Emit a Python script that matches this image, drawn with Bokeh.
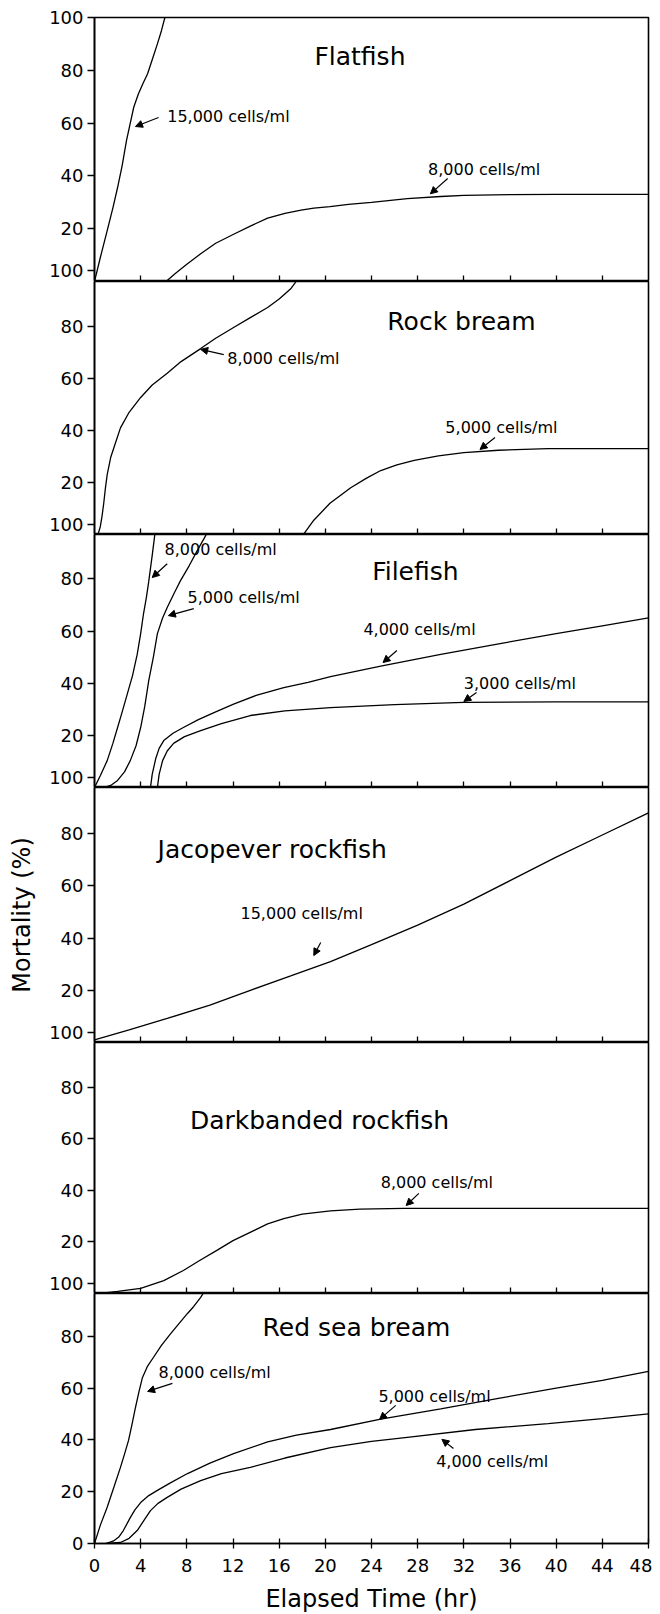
from bokeh.plotting import figure
from bokeh.layouts import column
from bokeh.models import Range1d, FixedTicker, Label, Arrow, NormalHead
from bokeh.embed import file_html
from bokeh.resources import INLINE

# ---------------- data ----------------
x_ticks = [0, 4, 8, 12, 16, 20, 24, 28, 32, 36, 40, 44, 48]

flat_15k_x = [0, 0.5, 1.1, 1.6, 2.0, 2.4, 2.77, 3.1, 3.4, 3.8, 4.2, 4.6, 5.0, 5.45, 5.8, 6.1]
flat_15k_y = [0, 9, 19.3, 28, 35.6, 44, 53.4, 60, 66, 71, 75, 78.7, 84, 90, 95, 100]
flat_8k_x = [6.2, 7.0, 8.0, 9.2, 10.5, 12.1, 13.5, 15, 16.5, 17.9, 19, 20.4, 22, 24, 27.1, 30, 32, 36, 40, 48]
flat_8k_y = [0, 3, 6.5, 10.5, 14.5, 18, 21, 24, 25.8, 27, 27.8, 28.4, 29.2, 30, 31.4, 32.2, 32.6, 32.9, 33, 33]

rock_8k_x = [0.3, 0.5, 0.65, 0.8, 0.95, 1.1, 1.4, 1.8, 2.25, 3, 4, 5, 6.3, 7.5, 9.2, 10.5, 12.05, 13.5, 15, 16, 17, 17.5]
rock_8k_y = [0, 3, 7, 12, 18, 23, 29.6, 35, 41, 47, 52.7, 57.5, 62, 66.5, 71.5, 75.5, 79.6, 83.4, 87.3, 90.6, 94.5, 97.5]
rock_5k_x = [18.1, 19, 20.4, 21.3, 22.2, 23.5, 24.8, 26.2, 27.7, 29.8, 32, 35, 39.3, 44, 48]
rock_5k_y = [0, 5.5, 12, 15, 18, 21.5, 24.6, 26.8, 28.5, 30.2, 31.5, 32.4, 33, 33, 33]

file_8k_x = [0, 0.5, 1.1, 1.6, 2.0, 2.4, 2.85, 3.3, 3.7, 4.0, 4.25, 4.5, 4.7, 5.0, 5.3]
file_8k_y = [0, 4.5, 10.3, 17, 23, 29, 36, 43, 51, 59, 66.7, 73, 79, 89, 99.6]
file_5k_x = [0.8, 1.4, 2.0, 2.6, 3.1, 3.6, 4.0, 4.35, 4.7, 5.1, 5.45, 5.9, 6.3, 6.9, 7.45, 8.2, 8.9, 9.5, 10.0]
file_5k_y = [0, 0.8, 2.7, 6, 10.3, 16, 23, 31, 41, 50, 59, 65, 69, 74.5, 79.3, 85, 90.8, 95.5, 99.6]
file_4k_x = [4.85, 5.0, 5.3, 5.6, 6.0, 6.8, 7.7, 9, 10.5, 12.05, 14, 16.4, 18.5, 20.45, 24.8, 30, 34.9, 40, 44, 48]
file_4k_y = [0, 5, 11, 15, 18, 20.8, 23, 26, 29, 32, 35.3, 38.3, 40.3, 42.5, 46.5, 51, 55, 59, 62, 65]
file_3k_x = [5.45, 5.6, 5.9, 6.3, 6.85, 7.8, 9.2, 11, 13.5, 16.5, 20.45, 26, 32, 40, 48]
file_3k_y = [0, 5, 10.3, 14, 16.9, 19.5, 21.8, 24.5, 27.6, 29.4, 30.6, 31.8, 32.6, 32.8, 32.8]

jaco_15k_x = [0, 3, 6.3, 10, 13.5, 17, 20.45, 24, 28, 32, 36, 40, 44, 48]
jaco_15k_y = [1, 4.8, 9.2, 14.3, 20, 25.5, 31, 37.5, 45, 53, 62, 71, 79.5, 88]

dark_8k_x = [0.5, 2, 4, 6, 7.7, 9, 10.6, 12, 13.8, 15, 16.4, 18, 20.45, 23, 26.8, 32, 48]
dark_8k_y = [0, 0.8, 2, 5, 8.9, 12.5, 16.7, 20.5, 24.4, 27, 29, 30.8, 32, 32.7, 33, 33, 33]

red_8k_x = [0, 0.5, 1.1, 1.7, 2.25, 2.6, 2.95, 3.25, 3.55, 3.85, 4.15, 4.6, 5.1, 5.8, 6.6, 7.3, 8.06, 8.6, 9.2, 9.9]
red_8k_y = [0, 7, 14, 22, 29.4, 34.5, 39.8, 46, 52.5, 58.5, 64, 68.5, 71.8, 76.5, 81, 84.8, 88.8, 91.5, 95, 100]
red_5k_x = [1.0, 1.65, 2.1, 2.5, 3.1, 3.5, 4.0, 4.7, 5.45, 6.5, 8.06, 10, 12.05, 15, 17.5, 20.45, 24.8, 30, 35, 40, 44, 48]
red_5k_y = [0, 1, 2.5, 5, 10, 13, 15.8, 18.5, 20.5, 23.2, 27, 31, 34.7, 39.2, 41.8, 44, 48, 52, 56, 60, 63, 66.4]
red_4k_x = [1.0, 2.25, 3.0, 3.7, 4.3, 4.85, 5.5, 6.3, 7.5, 9.2, 11, 13.5, 16.5, 20.45, 24, 27.1, 33, 39.3, 44, 48]
red_4k_y = [0, 0.4, 2, 5, 9, 12.7, 15.5, 17.8, 21, 24.3, 27, 29.4, 33, 37, 39.4, 41, 44, 46.3, 48.2, 50]

panel_titles = ["Flatfish", "Rock bream", "Filefish", "Jacopever rockfish",
                "Darkbanded rockfish", "Red sea bream"]

series = [
    [(flat_15k_x, flat_15k_y), (flat_8k_x, flat_8k_y)],
    [(rock_8k_x, rock_8k_y), (rock_5k_x, rock_5k_y)],
    [(file_8k_x, file_8k_y), (file_5k_x, file_5k_y), (file_4k_x, file_4k_y), (file_3k_x, file_3k_y)],
    [(jaco_15k_x, jaco_15k_y)],
    [(dark_8k_x, dark_8k_y)],
    [(red_8k_x, red_8k_y), (red_5k_x, red_5k_y), (red_4k_x, red_4k_y)],
]

# label text, text x, text y, arrow tail (x, y), arrow head (x, y)
labels = [
    [("15,000 cells/ml", 6.3, 62.5, 5.55, 62.1, 3.55, 58.7),
     ("8,000 cells/ml", 28.9, 42.4, 30.6, 39.0, 29.1, 33.2)],
    [("8,000 cells/ml", 11.5, 67.7, 11.2, 69.2, 9.2, 71.2),
     ("5,000 cells/ml", 30.4, 41.2, 34.7, 37.3, 33.4, 32.7)],
    [("8,000 cells/ml", 6.07, 91.2, 6.3, 85.8, 5.0, 80.5),
     ("5,000 cells/ml", 8.06, 72.8, 8.6, 68.6, 6.4, 65.9),
     ("4,000 cells/ml", 23.3, 60.5, 26.2, 52.5, 25.0, 47.9),
     ("3,000 cells/ml", 32.0, 39.8, 33.1, 36.4, 32.0, 33.0)],
    [("15,000 cells/ml", 12.65, 49.4, 19.6, 38.3, 19.0, 33.3)],
    [("8,000 cells/ml", 24.8, 43.0, 28.1, 38.8, 27.0, 34.1)],
    [("8,000 cells/ml", 5.55, 66.0, 6.75, 61.8, 4.6, 58.7),
     ("5,000 cells/ml", 24.6, 56.8, 26.1, 53.3, 24.7, 47.9),
     ("4,000 cells/ml", 29.6, 31.7, 31.1, 36.7, 30.1, 40.2)],
]

title_pos = [(23.0, 85.2), (31.8, 82.0), (27.8, 82.8), (15.4, 74.0), (19.5, 67.0), (22.7, 83.4)]

# ---------------- layout ----------------
frame_heights = [264, 253, 253, 255, 251, 250]
y_tops = [100, 97.3, 97.0, 97.7, 97.3, 96.5]
FONT = "DejaVu Sans"

figs = []
n = len(panel_titles)
for i in range(n):
    last = (i == n - 1)
    p = figure(frame_width=554, frame_height=frame_heights[i],
               x_range=Range1d(0, 48), y_range=Range1d(0, y_tops[i]),
               output_backend="svg", toolbar_location=None,
               min_border_left=94, min_border_right=4,
               min_border_top=17 if i == 0 else 0, min_border_bottom=0,
               background_fill_color="white", border_fill_color="white")
    p.grid.visible = False
    p.outline_line_color = "black"
    p.outline_line_width = 1.6

    # y axis
    yt = [0, 20, 40, 60, 80] if last else [4, 20, 40, 60, 80]
    if i == 0:
        yt = yt + [100]
    p.yaxis.ticker = FixedTicker(ticks=yt)
    if not last:
        p.yaxis.major_label_overrides = {4: "100"}
    p.yaxis.major_tick_in = 0
    p.yaxis.major_tick_out = 7
    p.yaxis.minor_tick_line_color = None
    p.yaxis.axis_line_width = 1.6
    p.yaxis.major_tick_line_width = 1.3
    p.yaxis.major_label_standoff = 4
    p.yaxis.major_label_text_font = FONT
    p.yaxis.major_label_text_font_size = "18px"
    p.yaxis.major_label_text_color = "black"
    if i == 3:
        p.yaxis.axis_label = "Mortality (%)"
        p.yaxis.axis_label_text_font = FONT
        p.yaxis.axis_label_text_font_size = "24px"
        p.yaxis.axis_label_text_font_style = "normal"
        p.yaxis.axis_label_text_color = "black"
        p.yaxis.axis_label_standoff = 10

    # x axis
    p.xaxis.minor_tick_line_color = None
    p.xaxis.axis_line_width = 1.6
    p.xaxis.major_tick_line_width = 1.3
    if last:
        p.xaxis.ticker = FixedTicker(ticks=x_ticks)
        p.xaxis.major_tick_in = 5
        p.xaxis.major_tick_out = 5
        p.xaxis.major_label_standoff = 10
        p.xaxis.major_label_text_font = FONT
        p.xaxis.major_label_text_font_size = "18px"
        p.xaxis.major_label_text_color = "black"
        p.xaxis.axis_label = "Elapsed Time (hr)"
        p.xaxis.axis_label_text_font = FONT
        p.xaxis.axis_label_text_font_size = "24px"
        p.xaxis.axis_label_text_font_style = "normal"
        p.xaxis.axis_label_text_color = "black"
        p.xaxis.axis_label_standoff = 10
    else:
        p.xaxis.ticker = FixedTicker(ticks=x_ticks[1:-1])
        p.xaxis.major_tick_in = 6
        p.xaxis.major_tick_out = 0
        p.xaxis.major_label_standoff = 0
        p.xaxis.major_label_text_font_size = "0px"
        p.xaxis.major_label_text_color = None

    for xs, ys in series[i]:
        p.line(xs, ys, line_color="black", line_width=1.3)

    tx, ty = title_pos[i]
    p.add_layout(Label(x=tx, y=ty, text=panel_titles[i], text_font=FONT,
                       text_font_size="25px", text_align="center",
                       text_baseline="middle", text_color="black"))

    for (txt, lx, ly, ax0, ay0, ax1, ay1) in labels[i]:
        p.add_layout(Label(x=lx, y=ly, text=txt, text_font=FONT,
                           text_font_size="16px", text_align="left",
                           text_baseline="middle", text_color="black"))
        p.add_layout(Arrow(end=NormalHead(size=7, fill_color="black",
                                          line_color="black", line_width=1),
                           x_start=ax0, y_start=ay0, x_end=ax1, y_end=ay1,
                           line_color="black", line_width=1.2))
    figs.append(p)

layout = column(*figs, spacing=0)
open("out.html", "w").write(file_html(layout, INLINE))
